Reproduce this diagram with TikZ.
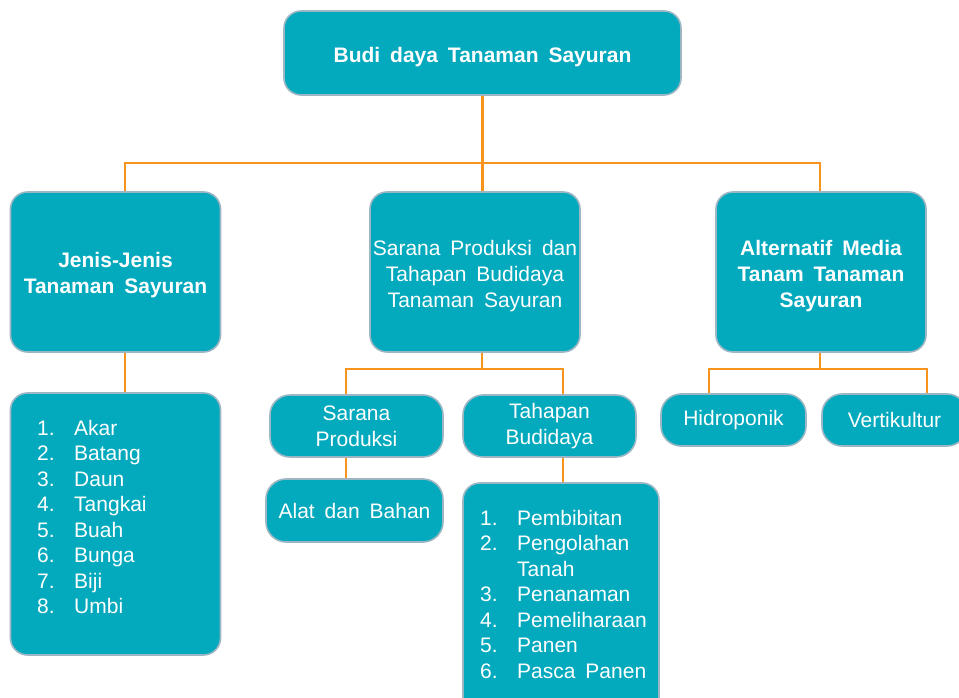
\documentclass[tikz,border=0pt]{standalone}
\usepackage{fontspec}
\setmainfont{Liberation Sans}[WordSpace=1.7]
\definecolor{boxfill}{HTML}{03A9BD}
\definecolor{boxline}{HTML}{9CB7C3}
\definecolor{connorange}{HTML}{F7941D}
\begin{document}
\begin{tikzpicture}[x=1pt,y=-1pt,
  box/.style={draw=boxline, line width=1.6pt, fill=boxfill, text=white, rounded corners=17pt,
    inner sep=2pt, align=center, font=\fontsize{21}{26}\selectfont},
  pill/.style={box, rounded corners=20pt},
  lbl/.style={inner sep=0pt, text=white, align=center, font=\fontsize{21}{26}\selectfont},
  blbl/.style={lbl, font=\bfseries\fontsize{21}{26}\selectfont},
  listtext/.style={inner sep=0pt, text=white, anchor=north west, font=\fontsize{21}{25.5}\selectfont},
  link/.style={draw=connorange, line width=2.9pt}]
\useasboundingbox (0,0) rectangle (959,698);
\clip (0,0) rectangle (959,698);
% main boxes
\node[box, minimum width=397pt, minimum height=84pt] (top) at (482.5,53) {};
\node[blbl] (topLbl) at ([yshift=-4pt]top.center) {Budi daya Tanaman Sayuran};
\node[box, minimum width=210pt, minimum height=160pt] (jenis) at (115.5,272) {};
\node[blbl] (jenisLbl) at ([yshift=-3pt]jenis.center) {Jenis-Jenis\\Tanaman Sayuran};
\node[box, minimum width=210pt, minimum height=160pt] (sarana) at (475,272) {};
\node[lbl] (saranaLbl) at ([yshift=-4pt]sarana.center) {Sarana Produksi dan\\Tahapan Budidaya\\Tanaman Sayuran};
\node[box, minimum width=210pt, minimum height=160pt] (alt) at (821,272) {};
\node[blbl] (altLbl) at ([yshift=-4pt]alt.center) {Alternatif Media\\Tanam Tanaman\\Sayuran};
% list of kinds
\node[box, minimum width=210pt, minimum height=262pt] (listA) at (115.5,524) {};
\node[listtext] (listAtext) at (37,417.15) {\begin{tabular}{@{}l@{}l@{}}
\makebox[37pt][l]{1.}&Akar\\
\makebox[37pt][l]{2.}&Batang\\
\makebox[37pt][l]{3.}&Daun\\
\makebox[37pt][l]{4.}&Tangkai\\
\makebox[37pt][l]{5.}&Buah\\
\makebox[37pt][l]{6.}&Bunga\\
\makebox[37pt][l]{7.}&Biji\\
\makebox[37pt][l]{8.}&Umbi
\end{tabular}};
% middle branch
\node[pill, minimum width=173pt, minimum height=62pt] (sp) at (356.5,426) {Sarana\\Produksi};
\node[pill, minimum width=173pt, minimum height=62pt] (tb) at (549.5,426) {Tahapan\\Budidaya};
\node[pill, minimum width=177pt, minimum height=63pt] (alat) at (354.5,510.5) {Alat dan Bahan};
\node[box, minimum width=196pt, minimum height=232pt] (listB) at (561,599) {};
\node[listtext] (listBtext) at (480,507.15) {\begin{tabular}{@{}l@{}l@{}}
\makebox[37pt][l]{1.}&Pembibitan\\
\makebox[37pt][l]{2.}&Pengolahan\\
&Tanah\\
\makebox[37pt][l]{3.}&Penanaman\\
\makebox[37pt][l]{4.}&Pemeliharaan\\
\makebox[37pt][l]{5.}&Panen\\
\makebox[37pt][l]{6.}&Pasca Panen
\end{tabular}};
% right branch
\node[pill, minimum width=145pt, minimum height=52pt] (hidro) at (733.5,420) {Hidroponik};
\node[pill, minimum width=145pt, minimum height=52pt] (verti) at (894.5,420) {Vertikultur};
% connector coordinates
\coordinate (dJ) at (125,163);
\coordinate (dA) at (820,163);
\coordinate (mC) at (482,369);
\coordinate (dSP) at (346,369);
\coordinate (dTB) at (563,369);
\coordinate (rC) at (820,369);
\coordinate (dH) at (709,369);
\coordinate (dV) at (927,369);
% connectors
\draw[link] (top.south) -- (top.south |- sarana.north);
\draw[link] (dJ |- jenis.north) -- (dJ) -- (dA) -- (dA |- alt.north);
\draw[link] (dJ |- jenis.south) -- (dJ |- listA.north);
\draw[link] (mC |- sarana.south) -- (mC);
\draw[link] (dSP |- sp.north) -- (dSP) -- (dTB) -- (dTB |- tb.north);
\draw[link] (dSP |- sp.south) -- (dSP |- alat.north);
\draw[link] (dTB |- tb.south) -- (dTB |- listB.north);
\draw[link] (rC |- alt.south) -- (rC);
\draw[link] (dH |- hidro.north) -- (dH) -- (dV) -- (dV |- verti.north);
\end{tikzpicture}
\end{document}
